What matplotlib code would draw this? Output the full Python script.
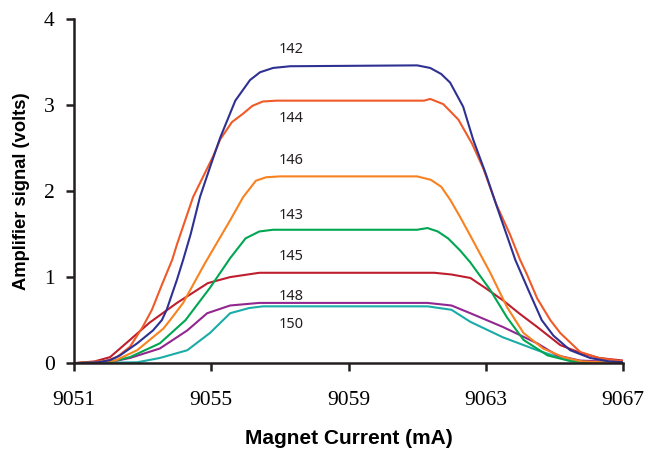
import numpy as np
import matplotlib
matplotlib.use("Agg")
import matplotlib.pyplot as plt

# magnet current (mA) / amplifier signal (volts)
x142 = [9051, 9051.7, 9052.05, 9052.34, 9052.84, 9053.3, 9053.56, 9053.7, 9054.0, 9054.18, 9054.4, 9054.67,
        9055, 9055.26, 9055.7, 9056.13, 9056.42, 9056.8, 9057.3, 9061, 9061.38, 9061.7, 9061.96, 9062.34,
        9062.63, 9063, 9063.33, 9063.6, 9063.86, 9064.24, 9064.63, 9064.97, 9065.46, 9066.04, 9066.6, 9067]
y142 = [0, 0.01, 0.035, 0.09, 0.23, 0.38, 0.5, 0.62, 0.97, 1.2, 1.5, 1.93,
        2.32, 2.62, 3.05, 3.29, 3.38, 3.43, 3.45, 3.46, 3.43, 3.36, 3.26, 2.98,
        2.6, 2.2, 1.81, 1.5, 1.2, 0.85, 0.5, 0.32, 0.15, 0.06, 0.02, 0.01]

x144 = [9051, 9051.8, 9052.25, 9052.63, 9053.0, 9053.27, 9053.55, 9053.86, 9054.0, 9054.47, 9055.05, 9055.26,
        9055.6, 9055.93, 9056.2, 9056.5, 9056.9, 9061.2, 9061.38, 9061.76, 9062.2, 9062.6, 9062.92, 9063.3,
        9063.7, 9064.0, 9064.2, 9064.5, 9064.88, 9065.17, 9065.75, 9066.3, 9067]
y144 = [0, 0.01, 0.07, 0.19, 0.42, 0.62, 0.9, 1.2, 1.38, 1.93, 2.4, 2.6,
        2.8, 2.9, 2.99, 3.04, 3.05, 3.05, 3.07, 3.01, 2.83, 2.55, 2.27, 1.85,
        1.5, 1.2, 1.03, 0.75, 0.5, 0.35, 0.13, 0.06, 0.02]

x146 = [9051, 9052.2, 9052.84, 9053.6, 9053.8, 9054.18, 9054.8, 9055.55, 9055.93, 9056.3, 9056.6, 9057, 9061,
        9061.4, 9061.7, 9061.96, 9062.25, 9062.55, 9063.13, 9063.62, 9064.1, 9064.67, 9065.26, 9065.8, 9067]
y146 = [0, 0.03, 0.15, 0.4, 0.5, 0.7, 1.15, 1.66, 1.93, 2.12, 2.16, 2.17, 2.17,
        2.13, 2.05, 1.9, 1.7, 1.48, 1.05, 0.65, 0.35, 0.17, 0.07, 0.02, 0]

x143 = [9051, 9052, 9052.63, 9053.5, 9054.25, 9054.97, 9055.55, 9056, 9056.4, 9056.8, 9061,
        9061.3, 9061.6, 9061.9, 9062.25, 9062.55, 9063.13, 9063.62, 9064.1, 9064.8, 9065.5, 9067]
y143 = [0, 0.01, 0.07, 0.23, 0.5, 0.88, 1.22, 1.45, 1.53, 1.55, 1.55,
        1.57, 1.53, 1.45, 1.31, 1.17, 0.85, 0.53, 0.27, 0.09, 0.02, 0]

x145 = [9051, 9051.6, 9052.05, 9052.63, 9053.2, 9054.0, 9054.9, 9055.55, 9056.4, 9061.5, 9062, 9062.55,
        9063, 9063.5, 9064, 9064.5, 9065.17, 9065.75, 9066.3, 9067]
y145 = [0, 0.02, 0.07, 0.27, 0.47, 0.70, 0.93, 1.0, 1.05, 1.05, 1.03, 0.99,
        0.87, 0.73, 0.57, 0.42, 0.21, 0.12, 0.06, 0.03]

x148 = [9051, 9052, 9052.63, 9053.5, 9054.3, 9054.88, 9055.55, 9056.4, 9061.3, 9062, 9062.55,
        9063.5, 9064.5, 9065.08, 9065.75, 9067]
y148 = [0, 0.01, 0.06, 0.17, 0.38, 0.58, 0.67, 0.70, 0.70, 0.67, 0.58,
        0.42, 0.23, 0.09, 0.03, 0.01]

x150 = [9051, 9052.84, 9053.5, 9054.3, 9054.96, 9055.55, 9056.1, 9056.5, 9061.3, 9062, 9062.55,
        9063.5, 9064.5, 9065.17, 9065.9, 9067]
y150 = [0, 0.01, 0.06, 0.15, 0.35, 0.58, 0.64, 0.66, 0.66, 0.62, 0.48,
        0.3, 0.15, 0.06, 0.01, 0]

names = ["142", "144", "146", "143", "145", "148", "150"]
label_y = [3.64, 2.84, 2.36, 1.72, 1.24, 0.77, 0.45]
label_x = 9056.95

series = [(x142, y142, "#2e3192"), (x144, y144, "#f05a28"), (x146, y146, "#f7821f"),
          (x143, y143, "#00a651"), (x145, y145, "#be1e2d"), (x148, y148, "#92278f"),
          (x150, y150, "#1aaca6")]

fig = plt.figure(figsize=(6.47, 4.5), dpi=100)
ax = fig.add_axes([0.1144, 0.193, 0.8486, 0.765])

# draw back to front so the big curves sit on top like the original
for xs, ys, c in series[::-1]:
    ax.plot(xs, ys, color=c, lw=1.5, solid_joinstyle="round")

for n, ly in zip(names, label_y):
    ax.text(label_x, ly, n, fontsize=10.5, family="Noto Sans", ha="left", va="center", color="#231f20")

ax.set_xlim(9051, 9067)
ax.set_ylim(0, 4)
ax.set_xticks([9051, 9055, 9059, 9063, 9067])
ax.set_yticks([0, 1, 2, 3, 4])

for s in ["top", "right"]:
    ax.spines[s].set_visible(False)
for s in ["left", "bottom"]:
    ax.spines[s].set_linewidth(1.8)
    ax.spines[s].set_color("#231f20")
    ax.spines[s].set_capstyle("projecting")

ax.tick_params(direction="out", length=6, width=1.8, color="#231f20", labelsize=15.5)
ax.tick_params(axis="x", pad=14)
ax.tick_params(axis="y", pad=8)
for lab in ax.get_xticklabels() + ax.get_yticklabels():
    lab.set_family("Liberation Serif")

ax.set_xlabel("Magnet Current (mA)", fontsize=15, fontweight="bold",
              family="Liberation Sans", labelpad=14)
ax.set_ylabel("Amplifier signal (volts)", fontsize=13.2, fontweight="bold",
              family="Liberation Sans", labelpad=10)

fig.savefig("out.png", dpi=100)
